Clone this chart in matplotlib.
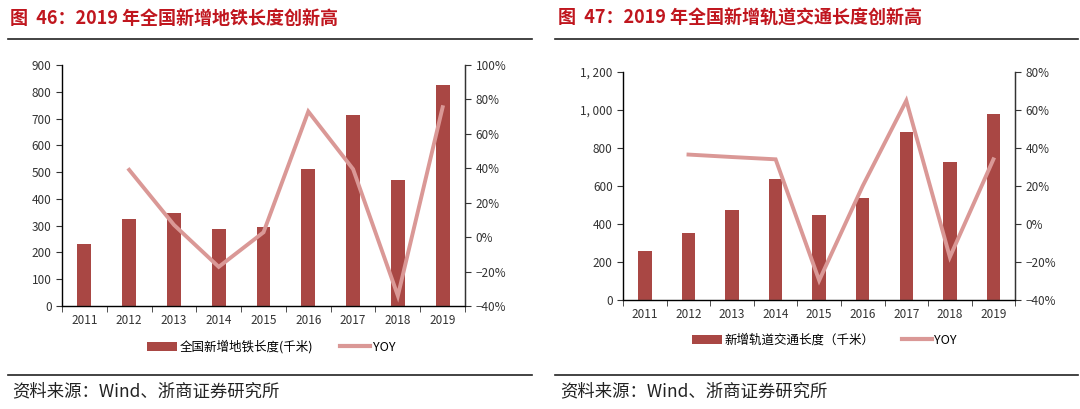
import matplotlib.pyplot as plt
import matplotlib.ticker as mticker
from matplotlib.lines import Line2D
from matplotlib.patches import Patch

plt.rcParams['font.family'] = ['Noto Sans CJK SC', 'DejaVu Sans']

years = ["2011", "2012", "2013", "2014", "2015", "2016", "2017", "2018", "2019"]

# 图46 全国新增地铁长度(千米) 与 YOY
metro_len = [232, 324, 347, 287, 295, 511, 713, 470, 825]
metro_yoy = [None, 39.1, 7.1, -17.3, 2.8, 73.0, 39.5, -34.1, 75.5]

# 图47 新增轨道交通长度(千米) 与 YOY
rail_len = [256, 351, 474, 635, 446, 535, 882, 728, 977]
rail_yoy = [None, 36.5, 35.2, 34.0, -29.8, 20.0, 64.9, -17.5, 34.0]

bar_c = "#A94744"
line_c = "#DA9896"
title_c = "#C0161E"
ax_c = "#333333"

fig = plt.figure(figsize=(10.8, 4.09), dpi=100)


def draw(pos, vals, yoy, ylim, yticks, ylab_fmt, y2lim, y2ticks, bar_label, leg_y, leg_x, colsp):
    ax = fig.add_axes(pos)
    x = list(range(len(years)))
    ax.bar(x, vals, width=0.31, color=bar_c, zorder=2)
    ax.set_xlim(-0.5, len(years) - 0.5)
    ax.set_ylim(*ylim)
    ax.set_yticks(yticks)
    ax.yaxis.set_major_formatter(mticker.FuncFormatter(ylab_fmt))
    ax.set_xticks(x)
    ax.set_xticklabels(years)
    ax.set_xticks([i + 0.5 for i in range(-1, len(years))], minor=True)
    ax.tick_params(axis='x', which='major', length=0, pad=6, labelsize=8.5, colors=ax_c)
    ax.tick_params(axis='x', which='minor', length=4, direction='out', color=ax_c)
    ax.tick_params(axis='y', length=4, direction='out', labelsize=8.5, colors=ax_c)
    ax.spines['top'].set_visible(False)
    for s in ['left', 'right', 'bottom']:
        ax.spines[s].set_color(ax_c)
        ax.spines[s].set_linewidth(1.0)

    ax2 = ax.twinx()
    xs = [i for i, v in enumerate(yoy) if v is not None]
    ys = [v for v in yoy if v is not None]
    ax2.plot(xs, ys, color=line_c, lw=2.8, solid_joinstyle='miter', zorder=3)
    ax2.set_ylim(*y2lim)
    ax2.set_yticks(y2ticks)
    ax2.yaxis.set_major_formatter(mticker.FuncFormatter(lambda v, p: f"{v:.0f}%".replace("-", "\u2212")))
    ax2.tick_params(axis='y', length=4, direction='out', labelsize=8.5, colors=ax_c)
    ax2.spines['top'].set_visible(False)
    ax2.spines['right'].set_color(ax_c)

    handles = [Patch(facecolor=bar_c, edgecolor='none'),
               Line2D([0], [0], color=line_c, lw=3)]
    fig.legend(handles, [bar_label, "YOY"], loc='center', bbox_to_anchor=(leg_x, leg_y),
               ncol=2, frameon=False, fontsize=9, handlelength=2.4, handleheight=0.7,
               columnspacing=colsp, handletextpad=0.2)


draw([0.0574, 0.252, 0.3732, 0.589], metro_len, metro_yoy, (0, 900), range(0, 901, 100),
     lambda v, p: f"{v:.0f}", (-40, 100), range(-40, 101, 20),
     "全国新增地铁长度(千米)", 1 - 347 / 409, 0.251, 2.2)

draw([0.577, 0.267, 0.363, 0.557], rail_len, rail_yoy, (0, 1200), range(0, 1201, 200),
     lambda v, p: f"{v:,.0f}".replace(",", ", "), (-40, 80), range(-40, 81, 20),
     "新增轨道交通长度（千米）", 1 - 340 / 409, 0.763, 2.2)

# titles and rules
fig.text(10 / 1080, 1 - 18 / 409, "图  46：2019 年全国新增地铁长度创新高", color=title_c,
         fontsize=13, fontweight='bold', va='center', ha='left')
fig.text(558 / 1080, 1 - 18 / 409, "图  47：2019 年全国新增轨道交通长度创新高", color=title_c,
         fontsize=13, fontweight='bold', va='center', ha='left')
for x0, x1 in [(8, 532), (555, 1078)]:
    fig.add_artist(Line2D([x0 / 1080, x1 / 1080], [1 - 39 / 409, 1 - 39 / 409], color='#222222', lw=1.2))
    fig.add_artist(Line2D([x0 / 1080, x1 / 1080], [1 - 375 / 409, 1 - 375 / 409], color='#222222', lw=1.2))

fig.text(12 / 1080, 1 - 391 / 409, "资料来源：Wind、浙商证券研究所", fontsize=12.5, color='#222222',
         va='center', ha='left')
fig.text(560 / 1080, 1 - 391 / 409, "资料来源：Wind、浙商证券研究所", fontsize=12.5, color='#222222',
         va='center', ha='left')

fig.savefig("out.png", dpi=100)
